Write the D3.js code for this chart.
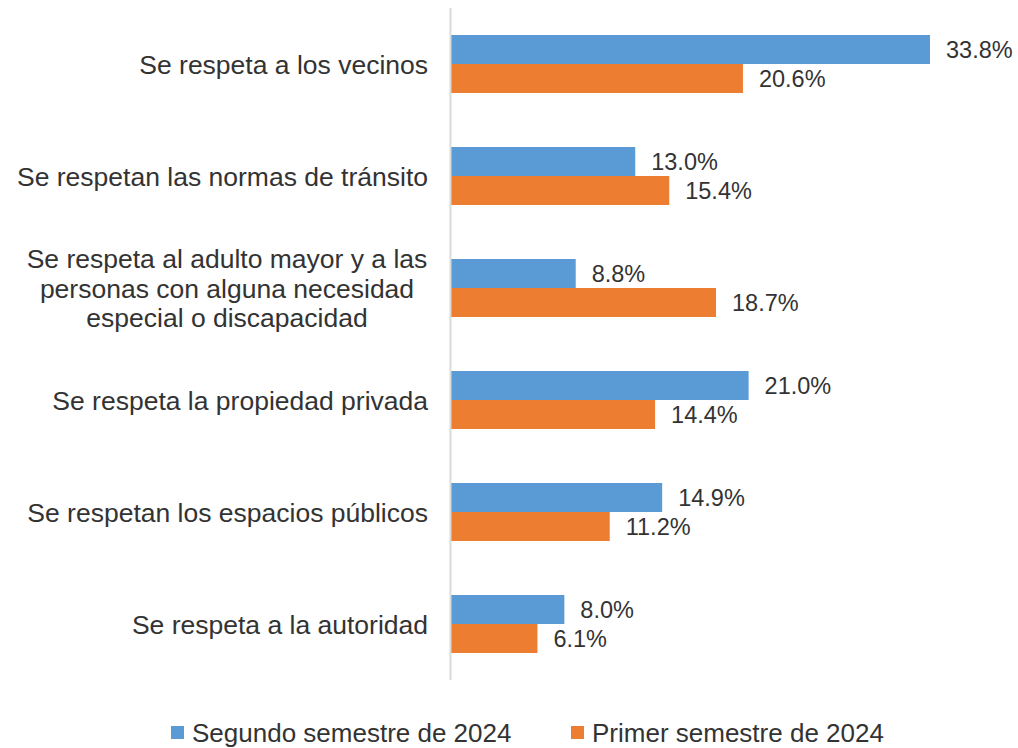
<!DOCTYPE html>
<html>
<head>
<meta charset="utf-8">
<script src="https://cdn.jsdelivr.net/npm/d3@7"></script>
<style>
  body { margin: 0; background: #fff; }
  svg { display: block; font-family: "Liberation Sans", Arial, sans-serif; }
</style>
</head>
<body>
<svg width="1018" height="748"></svg>
<script>
// chart data
var categories = [
    "Se respeta a los vecinos",
    "Se respetan las normas de tránsito",
    "Se respeta al adulto mayor y a las|personas con alguna necesidad|especial o discapacidad",
    "Se respeta la propiedad privada",
    "Se respetan los espacios públicos",
    "Se respeta a la autoridad"
];
var seriesNames = ["Segundo semestre de 2024", "Primer semestre de 2024"];
var segundo = [33.8, 13.0, 8.8, 21.0, 14.9, 8.0];
var primero = [20.6, 15.4, 18.7, 14.4, 11.2, 6.1];
var colors = ["#5B9BD5", "#ED7D31"];

var svg = d3.select("svg");
var plotLeft = 451, plotTop = 8, plotH = 672;

var x = d3.scaleLinear().domain([0, 33.8]).range([plotLeft, 930]);
var y = d3.scaleBand().domain(d3.range(categories.length)).range([plotTop, plotTop + plotH]);
var inner = d3.scaleBand().domain([0, 1]).range([0, 58]);

// rows: one group per category
var rows = categories.map(function(c, i) {
    return {cat: c, vals: [segundo[i], primero[i]]};
});

var g = svg.selectAll("g.row")
    .data(rows)
    .enter()
    .append("g")
    .attr("class", "row")
    .attr("transform", function(d, i) { return "translate(0," + (y(i) + y.bandwidth() / 2 - 29) + ")"; });

g.selectAll("rect")
    .data(function(d) { return d.vals; })
    .enter()
    .append("rect")
    .attr("x", x(0))
    .attr("y", function(d, j) { return inner(j); })
    .attr("width", function(d) { return x(d) - x(0); })
    .attr("height", inner.bandwidth())
    .attr("fill", function(d, j) { return colors[j]; });

g.selectAll("text.val")
    .data(function(d) { return d.vals; })
    .enter()
    .append("text")
    .attr("class", "val")
    .attr("x", function(d) { return x(d) + 16; })
    .attr("y", function(d, j) { return inner(j) + inner.bandwidth() / 2; })
    .attr("dy", "0.36em")
    .attr("font-size", 23.5)
    .attr("fill", "#333")
    .text(function(d) { return d.toFixed(1) + "%"; });

// category labels
svg.selectAll("text.cat")
    .data(rows)
    .enter()
    .append("text")
    .attr("class", "cat")
    .attr("font-size", 26.5)
    .attr("fill", "#333")
    .each(function(d, i) {
        var lines = d.cat.split("|");
        var t = d3.select(this);
        var cy = y(i) + y.bandwidth() / 2;
        if (lines.length == 1) {
            t.attr("text-anchor", "end").attr("x", 428).attr("y", cy).attr("dy", "0.36em").text(lines[0]);
        } else {
            t.attr("text-anchor", "middle");
            lines.forEach(function(l, k) {
                t.append("tspan")
                    .attr("x", 227)
                    .attr("y", cy + (k - (lines.length - 1) / 2) * 29.5)
                    .attr("dy", "0.36em")
                    .text(l);
            });
        }
    });

// vertical axis line
svg.append("line")
    .attr("x1", plotLeft - 0.5).attr("x2", plotLeft - 0.5)
    .attr("y1", plotTop).attr("y2", plotTop + plotH)
    .attr("stroke", "#d9d9d9")
    .attr("stroke-width", 2);

// legend
var legX = [171, 571];
var leg = svg.selectAll("g.leg")
    .data(seriesNames)
    .enter()
    .append("g")
    .attr("class", "leg")
    .attr("transform", function(d, i) { return "translate(" + legX[i] + ",726)"; });
leg.append("rect")
    .attr("width", 13).attr("height", 13)
    .attr("fill", function(d, i) { return colors[i]; });
leg.append("text")
    .attr("x", 21)
    .attr("y", 6.5)
    .attr("dy", "0.36em")
    .attr("font-size", 26)
    .attr("fill", "#333")
    .text(function(d) { return d; });
</script>
</body>
</html>
